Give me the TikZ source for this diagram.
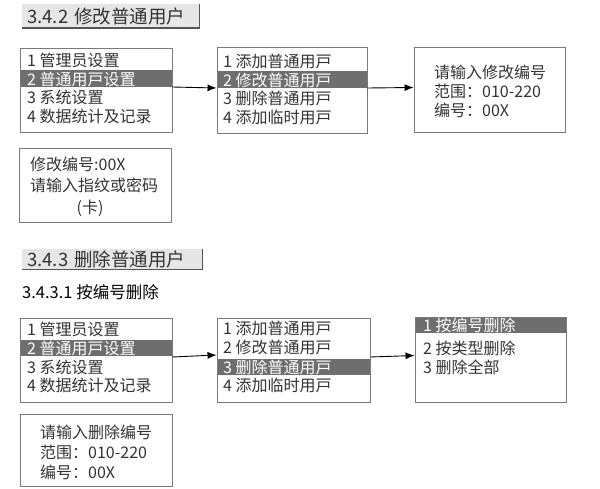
\documentclass[tikz,border=0pt]{standalone}
\usepackage{fontspec}
\setmainfont{Noto Sans CJK SC}
\usetikzlibrary{arrows.meta}

\definecolor{txtgray}{HTML}{333333}
\definecolor{selgray}{HTML}{6E6E6E}
\definecolor{boxgray}{HTML}{7A7A7A}
\definecolor{headfill}{HTML}{E6E6E6}
\definecolor{headline}{HTML}{555555}

\tikzset{
  menu/.style={draw=boxgray, line width=0.9pt, minimum width=152pt, inner sep=0pt},
  item/.style={anchor=west, inner sep=0pt, text=txtgray, font=\fontsize{16}{16}\selectfont},
  selitem/.style={item, text=white},
  headbox/.style={fill=headfill, anchor=west, inner xsep=5pt, inner ysep=0pt, align=left,
    text=txtgray, font=\fontsize{18.5}{18.5}\selectfont},
  arr/.style={-{Latex[length=9pt,width=7pt]}, line width=0.9pt},
}

\begin{document}
\begin{tikzpicture}[x=1pt,y=-1pt]
  \useasboundingbox (0,0) rectangle (600,489);

  % 3.4.2
  \node[headbox, text width=167pt, minimum height=24pt] (h1) at (22,16) {3.4.2 修改普通用户};
  \draw[headline, line width=1.6pt] (h1.north east) -- (h1.south east) -- (h1.south west);

  \fill[selgray] (20,70.5) rectangle (172,87);
  \node[menu, minimum height=84pt] (m1) at (96,90) {};
  \node[item] (m1a) at (27,60.5) {1 管理员设置};
  \node[selitem] (m1b) at (27,79) {2 普通用戸设置};
  \node[item] (m1c) at (27,97.5) {3 系统设置};
  \node[item] (m1d) at (27,116) {4 数据统计及记录};

  \fill[selgray] (217,71) rectangle (367,88);
  \node[menu, minimum width=150pt, minimum height=86pt] (m2) at (292,90) {};
  \node[item] (m2a) at (223,61.5) {1 添加普通用戸};
  \node[selitem] (m2b) at (223,80) {2 修改普通用戸};
  \node[item] (m2c) at (223,98.5) {3 删除普通用戸};
  \node[item] (m2d) at (223,117) {4 添加临时用戸};

  \node[menu, minimum width=151pt, minimum height=85pt] (m3) at (489.5,89.5) {};
  \node[item] (m3a) at (434,72) {请输入修改编号};
  \node[item] (m3b) at (434,91) {范围：010-220};
  \node[item] (m3c) at (434,110) {编号：00X};

  \draw[arr] ([yshift=3pt]m1.east) -- ([yshift=2pt]m2.west);
  \draw[arr] ([yshift=2pt]m2.east) -- ([yshift=2pt]m3.west);

  \node[menu, minimum height=74pt] (m4) at (95,185) {};
  \node[item] (m4a) at (30,164) {修改编号:00X};
  \node[item] (m4b) at (30,185) {请输入指纹或密码};
  \node[item, anchor=center] (m4c) at (90,208) {(卡)};

  % 3.4.3
  \node[headbox, text width=170pt, minimum height=20pt] (h2) at (22,259.5) {3.4.3 删除普通用户};
  \draw[headline, line width=1.6pt] (h2.north east) -- (h2.south east) -- (h2.south west);
  \node[item, text=black, font=\fontsize{16.5}{16.5}\selectfont] (h3) at (22,292) {3.4.3.1 按编号删除};

  \fill[selgray] (20,340) rectangle (172,356);
  \node[menu, minimum height=84pt] (m5) at (96,360) {};
  \node[item] (m5a) at (27,329) {1 管理员设置};
  \node[selitem] (m5b) at (27,348) {2 普通用戸设置};
  \node[item] (m5c) at (27,367) {3 系统设置};
  \node[item] (m5d) at (27,385) {4 数据统计及记录};

  \fill[selgray] (217,359) rectangle (370,375);
  \node[menu, minimum width=153pt, minimum height=84pt] (m6) at (293.5,360) {};
  \node[item] (m6a) at (223,328) {1 添加普通用戸};
  \node[item] (m6b) at (223,347) {2 修改普通用戸};
  \node[selitem] (m6c) at (223,367) {3 删除普通用戸};
  \node[item] (m6d) at (223,385) {4 添加临时用戸};

  \fill[selgray] (415,317) rectangle (566,333);
  \node[menu, minimum width=151pt, minimum height=85pt] (m7) at (490.5,359.5) {};
  \node[selitem] (m7a) at (423,325) {1 按编号删除};
  \node[item] (m7b) at (423,348) {2 按类型删除};
  \node[item] (m7c) at (423,367) {3 删除全部};

  \draw[arr] ([yshift=3pt]m5.east) -- ([yshift=5pt]m6.west);
  \draw[arr] ([yshift=3pt]m6.east) -- ([yshift=4pt]m7.west);

  \node[menu, minimum height=72pt] (m8) at (96,450) {};
  \node[item] (m8a) at (40,432) {请输入删除编号};
  \node[item] (m8b) at (40,452) {范围：010-220};
  \node[item] (m8c) at (40,472) {编号：00X};
\end{tikzpicture}
\end{document}
